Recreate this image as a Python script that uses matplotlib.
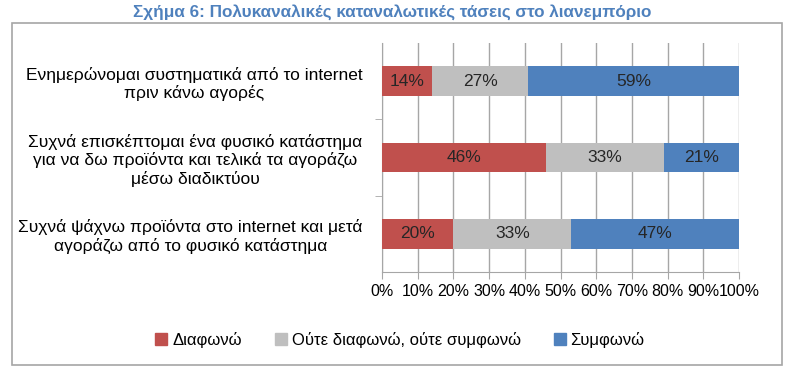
import numpy as np
import matplotlib.pyplot as plt
from matplotlib.patches import Rectangle, Patch

plt.rcParams['font.family'] = ['Liberation Sans', 'DejaVu Sans']

title = 'Σχήμα 6: Πολυκαναλικές καταναλωτικές τάσεις στο λιανεμπόριο'
categories = [
    'Ενημερώνομαι συστηματικά από το internet\nπριν κάνω αγορές',
    'Συχνά επισκέπτομαι ένα φυσικό κατάστημα\nγια να δω προϊόντα και τελικά τα αγοράζω\nμέσω διαδικτύου',
    'Συχνά ψάχνω προϊόντα στο internet και μετά\nαγοράζω από το φυσικό κατάστημα',
]
series_names = ['Διαφωνώ', 'Ούτε διαφωνώ, ούτε συμφωνώ', 'Συμφωνώ']
disagree = [14, 46, 20]
neutral = [27, 33, 33]
agree = [59, 21, 47]
colors = ['#C0504D', '#BFBFBF', '#4F81BD']

fig = plt.figure(figsize=(8, 3.82), dpi=100)
W, H = 800, 382

# outer frame
fig.patches.append(Rectangle((12 / W, 1 - 365 / H), 770 / W, 342 / H,
                             transform=fig.transFigure, fill=False,
                             edgecolor='#A6A6A6', linewidth=1.2))
fig.text(392 / W, 1 - 12 / H, title, ha='center', va='center',
         fontsize=12.3, fontweight='bold', color='#4F81BD')

ax = fig.add_axes([382 / W, 1 - 272 / H, (739 - 382) / W, (272 - 43) / H])
y = np.arange(len(categories))
left = np.zeros(len(categories))
for vals, name, c in zip([disagree, neutral, agree], series_names, colors):
    vals = np.array(vals)
    bars = ax.barh(y, vals, left=left, height=0.39, color=c, label=name, zorder=3)
    for b, v in zip(bars, vals):
        ax.text(b.get_x() + b.get_width() / 2, b.get_y() + b.get_height() / 2,
                f'{v}%', ha='center', va='center', fontsize=12.5, color='#262626', zorder=4)
    left = left + vals

ax.set_xlim(0, 100)
ax.set_ylim(2.5, -0.5)
ax.set_xticks(np.arange(0, 101, 10))
ax.set_xticklabels([f'{t}%' for t in range(0, 101, 10)], fontsize=11.5)
ax.set_yticks(y)
ax.set_yticklabels(categories, fontsize=12.5, multialignment='center')
ax.set_yticks([0.5, 1.5], minor=True)
ax.tick_params(axis='y', which='major', length=0, pad=14)
ax.tick_params(axis='y', which='minor', length=5, color='#A6A6A6', direction='out')
ax.tick_params(axis='x', length=5, color='#A6A6A6', pad=4)
ax.grid(axis='x', color='#A6A6A6', linewidth=1, zorder=0)
for s in ['top', 'right']:
    ax.spines[s].set_visible(False)
for s in ['left', 'bottom']:
    ax.spines[s].set_color('#A6A6A6')

handles = [Patch(color=c, label=n) for c, n in zip(colors, series_names)]
fig.legend(handles=handles, loc='center', bbox_to_anchor=(400 / W, 1 - 340 / H),
           ncol=3, frameon=False, fontsize=12, handlelength=0.7, handleheight=0.7,
           handletextpad=0.3, columnspacing=2.0)

fig.savefig('out.png', dpi=100)
